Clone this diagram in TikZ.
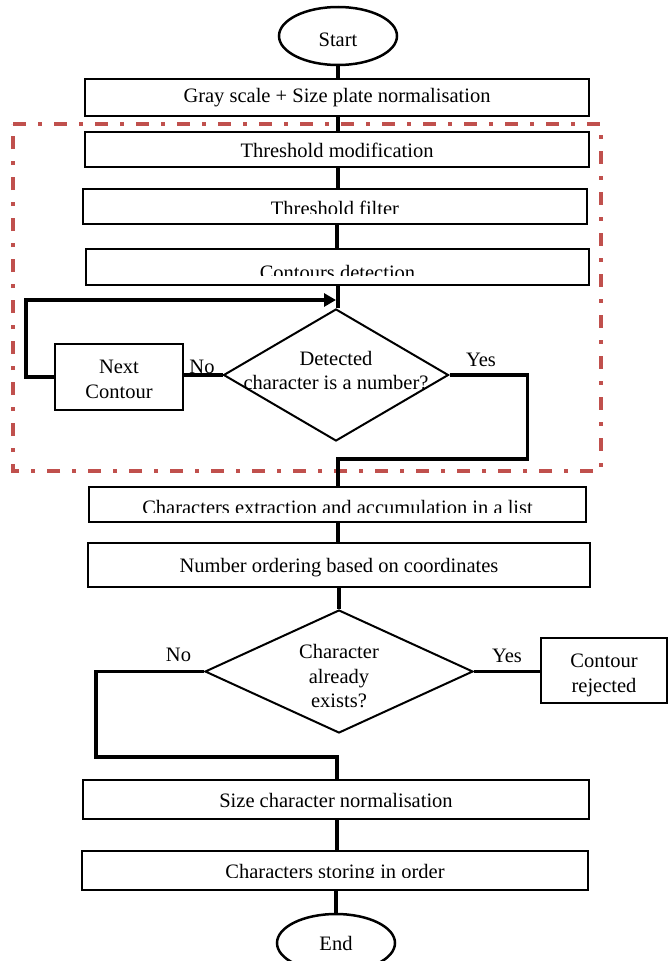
\documentclass[tikz,border=0pt]{standalone}
\usepackage{fontspec}
\setmainfont{Liberation Serif}
\usetikzlibrary{shapes.geometric,arrows.meta,calc}
\definecolor{framered}{HTML}{C0504D}
\begin{document}
\begin{tikzpicture}[x=1pt,y=-1pt,
  every node/.style={font=\fontsize{20.5}{24.5}\selectfont},
  box/.style={draw,line width=2pt,inner sep=0pt,text height=#1,text depth=0pt},
  box/.default=14pt,
  mbox/.style={draw,line width=2pt,inner sep=0pt},
  txt/.style={inner sep=0pt,align=center},
  term/.style={draw,ellipse,line width=2.5pt,inner sep=0pt,minimum width=118pt,minimum height=58pt,text height=#1,text depth=0pt},
  term/.default=14pt,
  decision/.style={draw,diamond,line width=2pt,inner sep=0pt},
  flow/.style={line width=3.5pt},
  lbl/.style={inner sep=0pt,anchor=base},
  mask/.style={fill=white},
  frame/.style={draw=framered,line width=3.5pt,dash pattern=on 13pt off 12pt on 4pt off 12pt}
]
\useasboundingbox (0,0) rectangle (671,961);

% dash-dot frame
\draw[frame] (13,124) -- (601,124) -- (601,471) -- (13,471) -- cycle;

% column for vertical connectors
\coordinate (col) at (338,0);

% nodes
\node[term=20pt] (start) at (338,36) {Start};
\node[box=9pt,minimum width=504pt,minimum height=37pt] (b1) at (337,97.5) {Gray scale + Size plate normalisation};
\node[box=15pt,minimum width=504pt,minimum height=35pt] (b2) at (337,149.5) {Threshold modification};
\node[box=17pt,minimum width=504pt,minimum height=35pt] (b3) at (335,206.5) {Threshold filter};
\node[box=24pt,minimum width=503pt,minimum height=36pt] (b4) at (337.5,267) {Contours detection};
\node[decision,minimum width=225pt,minimum height=132pt] (d1) at (336,375) {};
\node[txt] (d1t) at (336,370.5) {Detected\\character is a number?};
\node[mbox,minimum width=128pt,minimum height=66pt] (nc) at (119,377) {};
\node[txt] (nct) at (119,379.5) {Next\\Contour};
\node[box=19pt,minimum width=497pt,minimum height=35pt] (b5) at (337.5,504.5) {Characters extraction and accumulation in a list};
\node[box=14pt,minimum width=502pt,minimum height=44pt] (b6) at (339,565) {Number ordering based on coordinates};
\node[decision,minimum width=268pt,minimum height=123pt] (d2) at (339,671.5) {};
\node[txt] (d2t) at (339,676.5) {Character\\already\\exists?};
\node[mbox,minimum width=126pt,minimum height=65pt] (cr) at (604,670.5) {};
\node[txt] (crt) at (604,675.5) {Contour\\rejected};
\node[box=15pt,minimum width=506pt,minimum height=39pt] (b7) at (336,799.5) {Size character normalisation};
\node[box=16pt,minimum width=506pt,minimum height=39pt] (b8) at (335,870.5) {Characters storing in order};
\node[term] (end) at (336,943) {End};

% clipped text bottoms (masks stay inside the box borders)
\fill[mask] ($(b3.south west)+(2.5,-2.5)$) rectangle ($(b3.south east)+(-2.5,-11)$);
\fill[mask] ($(b4.south west)+(2.5,-2.5)$) rectangle ($(b4.south east)+(-2.5,-10)$);
\fill[mask] ($(b5.south west)+(2.5,-2.5)$) rectangle ($(b5.south east)+(-2.5,-10)$);
\fill[mask] ($(b8.south west)+(2.5,-2.5)$) rectangle ($(b8.south east)+(-2.5,-13)$);

% branch labels
\node[lbl] (no1) at (202,373.5) {No};
\node[lbl] (yes1) at (481,366.5) {Yes};
\node[lbl] (no2) at (178.5,661.5) {No};
\node[lbl] (yes2) at (507,662.5) {Yes};

% connectors
\coordinate (j1) at (336,300);
\coordinate (j2) at (338,459);
\coordinate (j3) at (337,757);
\draw[flow] (col |- start.south) -- (col |- b1.north);
\draw[flow] (col |- b1.south) -- (col |- b2.north);
\draw[flow] (col |- b2.south) -- (col |- b3.north);
\draw[flow] (337,0 |- b3.south) -- (337,0 |- b4.north);
\draw[flow] (col |- b4.south) -- (col |- d1.north);
\draw[flow,-{Triangle[length=12pt,width=13pt]}] (nc.west) -- ++(-28,0) |- (j1);
\draw[flow] (d1.west) -- (nc.east |- d1.west);
\draw[flow] (d1.east) -- ++(78,0) |- (j2) -- (j2 |- b5.north);
\draw[flow] (col |- b5.south) -- (col |- b6.north);
\draw[flow] (d2.north |- b6.south) -- (d2.north);
\draw[flow] (d2.east) -- (cr.west |- d2.east);
\draw[flow] (d2.west) -- ++(-108,0) |- (j3) -- (j3 |- b7.north);
\draw[flow] (j3 |- b7.south) -- (j3 |- b8.north);
\draw[flow] (end.north |- b8.south) -- (end.north);
\end{tikzpicture}
\end{document}
